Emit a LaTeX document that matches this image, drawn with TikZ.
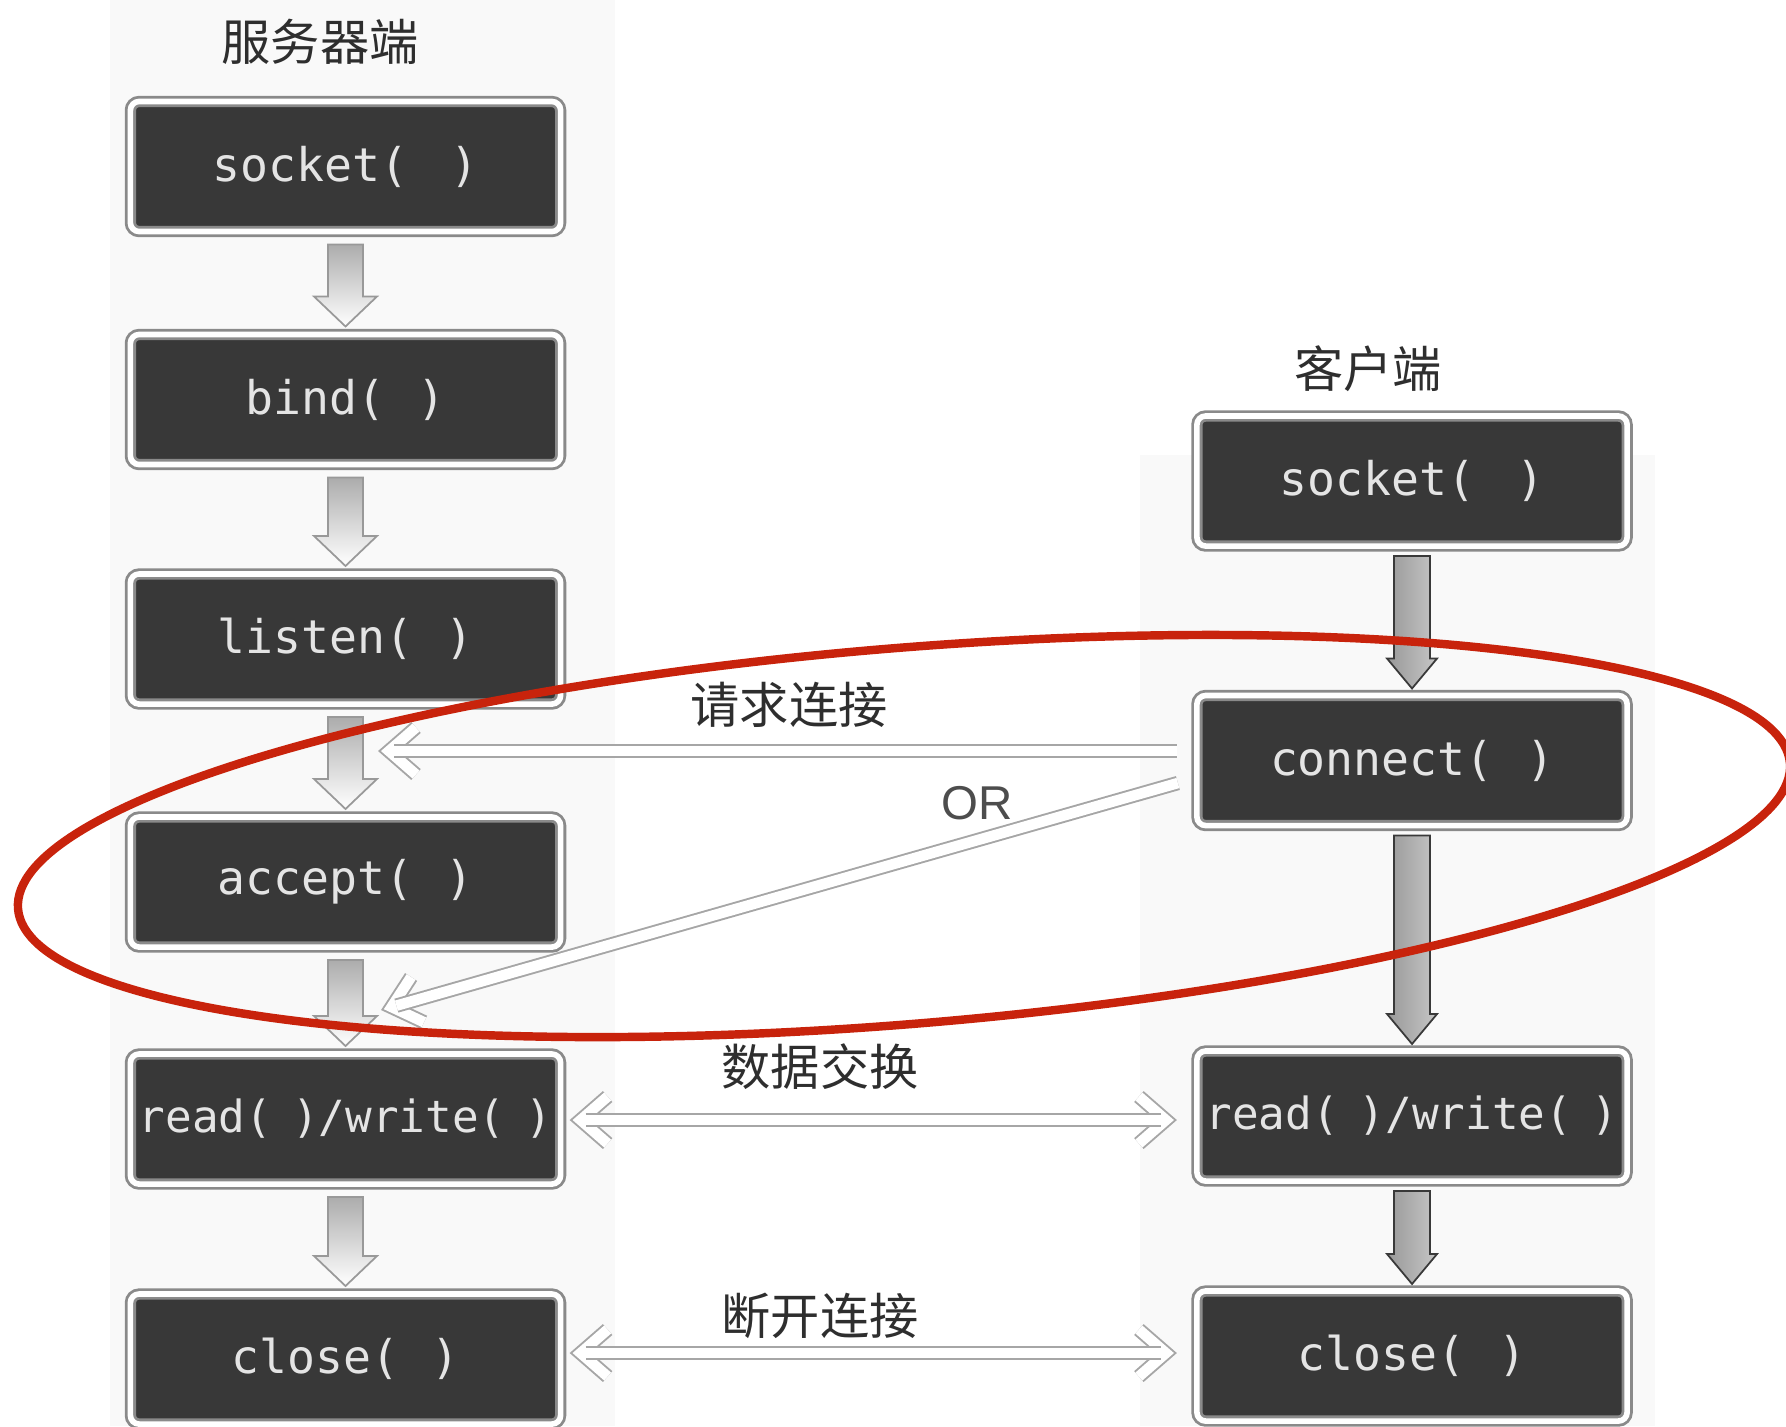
\documentclass[tikz,border=0pt]{standalone}
\usepackage{fontspec}
\setmonofont{DejaVu Sans Mono}
\setsansfont{Liberation Sans}
\newfontfamily\cjk{Noto Sans CJK SC}
\usetikzlibrary{calc,arrows.meta}
\definecolor{boxdark}{HTML}{383838}
\definecolor{boxtext}{HTML}{E4E4E4}
\definecolor{framegray}{HTML}{8A8A8A}
\definecolor{markred}{RGB}{200,35,12}
\definecolor{labelgray}{HTML}{2E2E2E}
\tikzset{
  fn/.style={rectangle, draw=framegray, line width=0.8pt, double=white,
    double distance=1.6pt, fill=boxdark, rounded corners=2.5pt,
    minimum width=4.30cm, minimum height=1.30cm, inner sep=0pt, outer sep=0pt,
    text=boxtext, font=\ttfamily\fontsize{13.2}{15}\selectfont},
  fnrw/.style={fn, font=\ttfamily\fontsize{12.6}{14}\selectfont},
  ttl/.style={font=\cjk\fontsize{14}{16}\selectfont, text=labelgray, inner sep=0pt},
  lbl/.style={font=\cjk\fontsize{14}{16}\selectfont, text=labelgray, inner sep=0pt},
  orlbl/.style={font=\sffamily\fontsize{13.5}{15}\selectfont, text=labelgray!85, inner sep=0pt},
  larrow/.style={draw=gray!80, line width=0.5pt, top color=gray!65, bottom color=white},
  darrow/.style={draw=gray!45!black, line width=0.5pt, left color=gray!80, right color=gray!45},
  hollow/.style={draw=gray!70, line width=0.55pt, double=white, double distance=3.0pt, line cap=butt},
  chevron/.style={hollow, line join=miter},
  band/.style={fill=gray!5, draw=none},
}
\newcommand\downL[2]{%
  \path[larrow] ($(#1.south)+(-17.5,-13)$) -- ($(#1.south)+(17.5,-13)$)
    -- ($(#2.north)+(17.5,38)$) -- ($(#2.north)+(31.5,38)$) -- ($(#2.north)+(0,8)$)
    -- ($(#2.north)+(-31.5,38)$) -- ($(#2.north)+(-17.5,38)$) -- cycle;}
\newcommand\downD[2]{%
  \path[darrow] ($(#1.south)+(-18,-10)$) -- ($(#1.south)+(18,-10)$)
    -- ($(#2.north)+(18,37)$) -- ($(#2.north)+(25,37)$) -- ($(#2.north)+(0,7)$)
    -- ($(#2.north)+(-25,37)$) -- ($(#2.north)+(-18,37)$) -- cycle;}
% open double-outlined head whose outer apex lies at coordinate #1, pointing in direction #2 (degrees)
\newcommand\chev[2]{%
  \draw[chevron, shift={(#1)}, rotate=#2] (-38,23.5) -- (-11,0) -- (-38,-23.5);}
\begin{document}
\begin{tikzpicture}[x=0.01cm, y=0.01cm]
\useasboundingbox (0,0) rectangle (1786,-1426);
% faint column bands
\fill[band] (110,0) rectangle (615,-1426);
\fill[band] (1140,-455) rectangle (1655,-1426);

% titles
\node[ttl] (tS) at (320,-42) {服务器端};
\node[ttl] (tC) at (1368,-369) {客户端};

% server column
\node[fn] (l1) at (345.5,-166.5) {socket(\hspace{0.9em})};
\node[fn] (l2) at (345.5,-399.5) {bind(\hspace{0.7em})};
\node[fn] (l3) at (345.5,-639) {listen(\hspace{0.7em})};
\node[fn] (l4) at (345.5,-882) {accept(\hspace{0.7em})};
\node[fnrw] (l5) at (345.5,-1119) {read(\hspace{0.45em})/write(\hspace{0.45em})};
\node[fn] (l6) at (345.5,-1359) {close(\hspace{0.7em})};

% client column
\node[fn] (r1) at (1412,-481) {socket(\hspace{0.9em})};
\node[fn] (r2) at (1412,-760.5) {connect(\hspace{0.7em})};
\node[fnrw] (r3) at (1412,-1116) {read(\hspace{0.45em})/write(\hspace{0.45em})};
\node[fn] (r4) at (1412,-1356) {close(\hspace{0.7em})};

% vertical flow arrows
\downL{l1}{l2}
\downL{l2}{l3}
\downL{l3}{l4}
\downL{l4}{l5}
\downL{l5}{l6}
\downD{r1}{r2}
\downD{r2}{r3}
\downD{r3}{r4}

% horizontal connectors (hollow double arrows)
\coordinate (reqTip) at (378,-751);
\coordinate (orTip) at (381,-1010);
\coordinate (reqEnd) at ($(r2.west)+(-20,9.5)$);
\coordinate (orEnd) at ($(r2.west)+(-19,-22.5)$);
\coordinate (dxL) at ($(l5.east)+(9,-1)$);
\coordinate (dxR) at ($(r3.west)+(-20,-4)$);
\coordinate (clL) at ($(l6.east)+(9,6)$);
\coordinate (clR) at ($(r4.west)+(-20,3)$);

\chev{reqTip}{180}
\draw[hollow] (reqEnd) -- ($(reqTip)!0.16cm!(reqEnd)$);
\chev{orTip}{195.9}
\draw[hollow] (orEnd) -- ($(orTip)!0.16cm!(orEnd)$);
\chev{dxL}{180}
\chev{dxR}{0}
\draw[hollow] ($(dxL)!0.16cm!(dxR)$) -- ($(dxR)!0.16cm!(dxL)$);
\chev{clL}{180}
\chev{clR}{0}
\draw[hollow] ($(clL)!0.16cm!(clR)$) -- ($(clR)!0.16cm!(clL)$);

% labels
\node[lbl] (q1) at (789,-705) {请求连接};
\node[orlbl] (q2) at (977,-803) {OR};
\node[lbl] (q3) at (820,-1067) {数据交换};
\node[lbl] (q4) at (820,-1316) {断开连接};

% red hand-drawn ellipse
\begin{scope}
\clip (0,0) rectangle (1786,-1426);
\draw[markred, line width=2.4pt, rotate around={4.7:(904,-836)}] (904,-836) ellipse [x radius=889, y radius=188];
\end{scope}
\end{tikzpicture}
\end{document}
